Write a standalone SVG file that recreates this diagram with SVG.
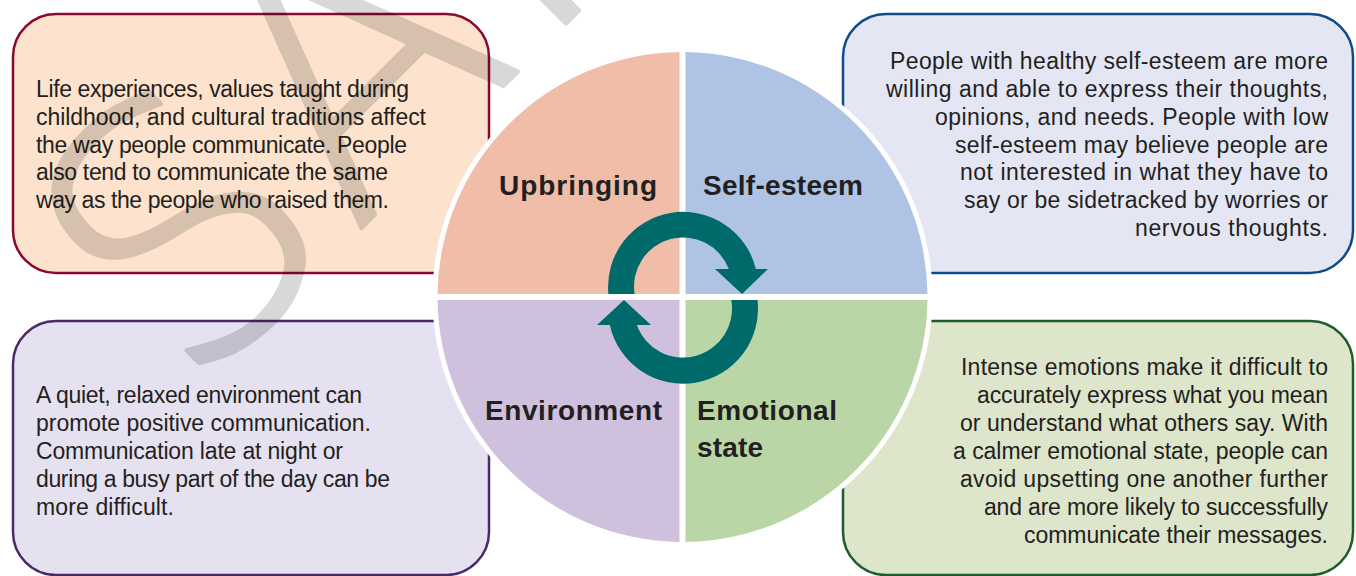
<svg xmlns="http://www.w3.org/2000/svg" width="1356" height="576" viewBox="0 0 1356 576">
  <style>
    .body { font-family: "Liberation Sans", Arial, sans-serif; font-size: 23px; fill: #231F20; }
    .end { text-anchor: end; }
    .label { font-family: "Liberation Sans", Arial, sans-serif; font-size: 28px; font-weight: bold; fill: #231F20; }
    .box { stroke-width: 2.5; }
    .wm { font-family: "DejaVu Sans", sans-serif; font-weight: 200; font-size: 355px; fill: #000; stroke: #000; stroke-width: 5; stroke-linejoin: round; }
  </style>
  <rect width="1356" height="576" fill="#FFFFFF"/>

  <g id="box-upbringing">
    <rect class="box" x="13" y="14" width="476" height="259" rx="43" fill="#FDE3CE" stroke="#8A0A2E"/>
    <text class="body" x="36" y="97" textLength="373">Life experiences, values taught during</text>
    <text class="body" x="36" y="125" textLength="390">childhood, and cultural traditions affect</text>
    <text class="body" x="36" y="153" textLength="371">the way people communicate. People</text>
    <text class="body" x="36" y="180" textLength="352">also tend to communicate the same</text>
    <text class="body" x="36" y="208" textLength="353">way as the people who raised them.</text>
  </g>

  <g id="box-selfesteem">
    <rect class="box" x="843" y="14" width="510" height="259" rx="43" fill="#E4E6F4" stroke="#0D4C8A"/>
    <text class="body end" x="1328" y="69" textLength="438">People with healthy self-esteem are more</text>
    <text class="body end" x="1328" y="97" textLength="442">willing and able to express their thoughts,</text>
    <text class="body end" x="1328" y="125" textLength="393">opinions, and needs. People with low</text>
    <text class="body end" x="1328" y="153" textLength="373">self-esteem may believe people are</text>
    <text class="body end" x="1328" y="180" textLength="368">not interested in what they have to</text>
    <text class="body end" x="1328" y="208" textLength="364">say or be sidetracked by worries or</text>
    <text class="body end" x="1328" y="236" textLength="193">nervous thoughts.</text>
  </g>

  <g id="box-environment">
    <rect class="box" x="13" y="321" width="476" height="254" rx="43" fill="#E6E1F0" stroke="#4A2A6A"/>
    <text class="body" x="36" y="403" textLength="326">A quiet, relaxed environment can</text>
    <text class="body" x="36" y="431" textLength="335">promote positive communication.</text>
    <text class="body" x="36" y="459" textLength="307">Communication late at night or</text>
    <text class="body" x="36" y="487" textLength="354">during a busy part of the day can be</text>
    <text class="body" x="36" y="515" textLength="138">more difficult.</text>
  </g>

  <g id="box-emotional">
    <rect class="box" x="843" y="321" width="510" height="254" rx="43" fill="#DDE5CB" stroke="#1C5E2C"/>
    <text class="body end" x="1328" y="375" textLength="367">Intense emotions make it difficult to</text>
    <text class="body end" x="1328" y="403" textLength="351">accurately express what you mean</text>
    <text class="body end" x="1328" y="431" textLength="368">or understand what others say. With</text>
    <text class="body end" x="1328" y="459" textLength="375">a calmer emotional state, people can</text>
    <text class="body end" x="1328" y="487" textLength="368">avoid upsetting one another further</text>
    <text class="body end" x="1328" y="515" textLength="344">and are more likely to successfully</text>
    <text class="body end" x="1328" y="543" textLength="304">communicate their messages.</text>
  </g>

  <circle cx="682.5" cy="297" r="250" fill="#FFFFFF"/>

  <g id="quadrant-upbringing">
    <path d="M 679.5 294 L 437.5 294 A 245 245 0 0 1 679.5 52 Z" fill="#EFBDA8"/>
    <text class="label" x="499" y="195" textLength="158">Upbringing</text>
  </g>
  <g id="quadrant-selfesteem">
    <path d="M 685.5 294 L 685.5 52 A 245 245 0 0 1 927.5 294 Z" fill="#AFC4E5"/>
    <text class="label" x="703" y="195" textLength="160">Self-esteem</text>
  </g>
  <g id="quadrant-environment">
    <path d="M 679.5 300 L 679.5 542 A 245 245 0 0 1 437.5 300 Z" fill="#CFC1DD"/>
    <text class="label" x="485" y="420" textLength="177">Environment</text>
  </g>
  <g id="quadrant-emotional">
    <path d="M 685.5 300 L 927.5 300 A 245 245 0 0 1 685.5 542 Z" fill="#BBD6A6"/>
    <text class="label" x="697" y="420" textLength="140">Emotional</text>
    <text class="label" x="697" y="457" textLength="66">state</text>
  </g>

  <g id="connectors" fill="#00696A">
    <path d="M 608.4 294 A 75 75 0 0 1 755.9 269 L 768 269 L 742 294 L 715 269 L 728.8 269 A 49 49 0 0 0 634.6 294 Z"/>
    <path d="M 757.5 300 A 75 75 0 0 1 609.8 325 L 597 325 L 624 300 L 651 325 L 636.9 325 A 49 49 0 0 0 731.3 300 Z"/>
  </g>

  <g id="watermark" opacity="0.15">
    <text class="wm" x="0" y="0" transform="translate(190,399) rotate(-45)">SAMPLE</text>
  </g>
</svg>
